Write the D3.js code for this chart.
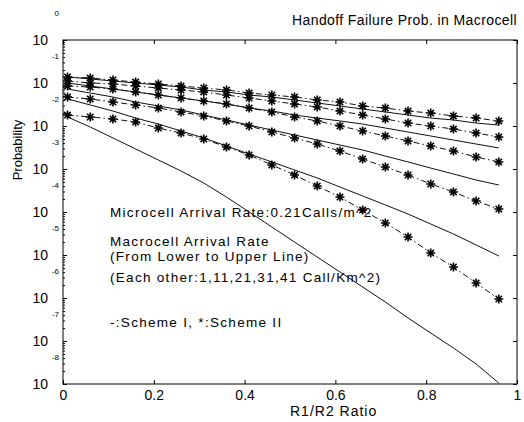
<!DOCTYPE html>
<html>
<head>
<meta charset="utf-8">
<script src="https://cdn.jsdelivr.net/npm/d3@7"></script>
<style>
  body { margin: 0; background: #fff; }
  svg { display: block; font-family: "Liberation Sans", Arial, sans-serif; }
</style>
</head>
<body>
<div id="chart"></div>
<script>
// R1/R2 ratio where both schemes were evaluated
const ratio = [0.01, 0.06, 0.11, 0.16, 0.21, 0.26, 0.31, 0.36, 0.41, 0.46,
               0.51, 0.56, 0.61, 0.66, 0.71, 0.76, 0.81, 0.86, 0.91, 0.96];

// Scheme I (solid), macrocell arrival 1, 11, 21, 31, 41 calls/km^2
const schemeI_1  = [0.0162, 0.00948, 0.00526, 0.00292, 0.00162, 8.97e-4, 4.72e-4, 2.23e-4, 1.0e-4, 4.48e-5,
                    2.0e-5, 8.97e-6, 4.03e-6, 1.80e-6, 8.07e-7, 3.43e-7, 1.53e-7, 6.87e-8, 2.92e-8, 1.05e-8];
const schemeI_11 = [0.0425, 0.0308, 0.0223, 0.0153, 0.0111, 0.00766, 0.00526, 0.00343, 0.00223, 0.00146,
                    9.48e-4, 6.18e-4, 3.81e-4, 2.36e-4, 1.46e-4, 8.97e-5, 5.26e-5, 3.08e-5, 1.71e-5, 9.48e-6];
const schemeI_21 = [0.0724, 0.0585, 0.0472, 0.0361, 0.0292, 0.0236, 0.0180, 0.0138, 0.0105, 0.00807,
                    0.00618, 0.00472, 0.00361, 0.00277, 0.00200, 0.00146, 0.00105, 7.66e-4, 5.55e-4, 4.25e-4];
const schemeI_31 = [0.1, 0.0851, 0.0724, 0.0618, 0.0526, 0.0448, 0.0381, 0.0325, 0.0262, 0.0223,
                    0.0180, 0.0153, 0.0131, 0.0111, 0.00897, 0.00724, 0.00585, 0.00472, 0.00381, 0.00308];
const schemeI_41 = [0.138, 0.1239, 0.1114, 0.1, 0.0897, 0.0807, 0.0687, 0.0618, 0.0526, 0.0472,
                    0.0403, 0.0343, 0.0292, 0.0248, 0.0212, 0.0180, 0.0153, 0.0138, 0.0117, 0.0105];

// Scheme II (dash-dot with *)
const schemeII_1  = [0.0180, 0.0162, 0.0146, 0.0124, 0.00897, 0.00687, 0.00499, 0.00325, 0.00212, 0.00124,
                     7.24e-4, 4.03e-4, 2.23e-4, 1.11e-4, 5.55e-5, 2.62e-5, 1.11e-5, 5.26e-6, 2.23e-6, 9.48e-7];
const schemeII_11 = [0.0472, 0.0425, 0.0361, 0.0308, 0.0262, 0.0212, 0.0171, 0.0131, 0.0100, 0.00724,
                     0.00526, 0.00381, 0.00262, 0.00171, 0.00111, 7.24e-4, 4.48e-4, 2.92e-4, 1.80e-4, 1.17e-4];
const schemeII_21 = [0.0851, 0.0807, 0.0724, 0.0618, 0.0526, 0.0448, 0.0381, 0.0325, 0.0262, 0.0212,
                     0.0162, 0.0131, 0.0100, 0.00766, 0.00585, 0.00448, 0.00343, 0.00262, 0.00190, 0.00146];
const schemeII_31 = [0.1114, 0.1, 0.0948, 0.0851, 0.0766, 0.0687, 0.0618, 0.0526, 0.0448, 0.0381,
                     0.0325, 0.0277, 0.0223, 0.0180, 0.0146, 0.0117, 0.0100, 0.00851, 0.00687, 0.00555];
const schemeII_41 = [0.138, 0.1306, 0.1175, 0.1054, 0.0948, 0.0851, 0.0766, 0.0687, 0.0585, 0.0526,
                     0.0472, 0.0403, 0.0361, 0.0292, 0.0262, 0.0223, 0.0200, 0.0171, 0.0153, 0.0131];

const xTicks = [0, 0.2, 0.4, 0.6, 0.8, 1];
const yExponents = [0, -1, -2, -3, -4, -5, -6, -7, -8];

const notes = [
    {text: 'Microcell Arrival Rate:0.21Calls/m^2', y: 217},
    {text: 'Macrocell Arrival Rate', y: 245.5},
    {text: '(From Lower to Upper Line)', y: 261},
    {text: '(Each other:1,11,21,31,41 Call/Km^2)', y: 282},
    {text: '-:Scheme I, *:Scheme II', y: 327}
];

const width = 524, height = 422;
const margin = {left: 63, right: 7, top: 40, bottom: 38};

const svg = d3.select('#chart').append('svg')
    .attr('width', width)
    .attr('height', height);

const x = d3.scaleLinear().domain([0, 1]).range([margin.left, width - margin.right]);
const y = d3.scaleLog().domain([1e-8, 1]).range([height - margin.bottom, margin.top]);

const plotLeft = x(0), plotRight = x(1), plotTop = y(1), plotBottom = y(1e-8);

// axes with inward ticks
svg.append('g')
    .attr('transform', `translate(0,${plotBottom})`)
    .call(d3.axisBottom(x).tickValues(xTicks).tickSize(-4).tickPadding(6)
        .tickFormat(d => d === 0 || d === 1 ? d3.format('d')(d) : d3.format('.1f')(d)))
    .call(g => g.select('.domain').remove())
    .call(g => g.selectAll('text').attr('font-size', 14).attr('fill', '#000'));

svg.append('g')
    .attr('transform', `translate(0,${plotTop})`)
    .call(d3.axisTop(x).tickValues(xTicks).tickSize(-4).tickFormat(''))
    .call(g => g.select('.domain').remove());

const minorTicks = [];
yExponents.slice(0, -1).forEach(e => {
    for (let m = 2; m <= 9; m++) minorTicks.push(m * Math.pow(10, e - 1));
});

svg.append('g')
    .attr('transform', `translate(${plotLeft},0)`)
    .call(d3.axisLeft(y).tickValues(yExponents.map(e => Math.pow(10, e))).tickSize(-4).tickFormat(''))
    .call(g => g.select('.domain').remove());

svg.append('g')
    .attr('transform', `translate(${plotLeft},0)`)
    .call(d3.axisLeft(y).tickValues(minorTicks).tickSize(-2).tickFormat(''))
    .call(g => g.select('.domain').remove());

svg.append('g')
    .attr('transform', `translate(${plotRight},0)`)
    .call(d3.axisRight(y).tickValues(yExponents.map(e => Math.pow(10, e))).tickSize(-4).tickFormat(''))
    .call(g => g.select('.domain').remove());

// frame
svg.append('rect')
    .attr('x', plotLeft).attr('y', plotTop)
    .attr('width', plotRight - plotLeft).attr('height', plotBottom - plotTop)
    .attr('fill', 'none').attr('stroke', '#000').attr('stroke-width', 1);

// y tick labels: 10 with a raised exponent
const yLab = svg.append('g').attr('font-size', 14).attr('fill', '#000');
yExponents.forEach(e => {
    const ty = y(Math.pow(10, e));
    yLab.append('text')
        .attr('x', 48).attr('y', ty + 5)
        .attr('text-anchor', 'end')
        .text('10');
    yLab.append('text')
        .attr('x', 59).attr('y', ty - 24)
        .attr('text-anchor', 'end')
        .attr('font-size', 8)
        .text(String(e));
});

// lines
const line = d3.line()
    .x((d, i) => x(ratio[i]))
    .y(d => y(d));

const solid = [schemeI_1, schemeI_11, schemeI_21, schemeI_31, schemeI_41];
const dashed = [schemeII_1, schemeII_11, schemeII_21, schemeII_31, schemeII_41];

svg.append('g')
    .selectAll('path')
    .data(solid)
    .enter().append('path')
    .attr('d', line)
    .attr('fill', 'none')
    .attr('stroke', '#111')
    .attr('stroke-width', 1);

svg.append('g')
    .selectAll('path')
    .data(dashed)
    .enter().append('path')
    .attr('d', line)
    .attr('fill', 'none')
    .attr('stroke', '#111')
    .attr('stroke-width', 1)
    .attr('stroke-dasharray', '6,3,1.5,3');

const star = 'M-4.5,0H4.5M0,-4.5V4.5M-3.2,-3.2L3.2,3.2M-3.2,3.2L3.2,-3.2';
dashed.forEach(series => {
    svg.append('g')
        .selectAll('path')
        .data(series)
        .enter().append('path')
        .attr('transform', (d, i) => `translate(${x(ratio[i])},${y(d)})`)
        .attr('d', star)
        .attr('fill', 'none')
        .attr('stroke', '#000')
        .attr('stroke-width', 1.6);
});

// labels
svg.append('text')
    .attr('x', 292).attr('y', 25)
    .attr('font-size', 14)
    .attr('letter-spacing', 0.4)
    .text('Handoff Failure Prob. in Macrocell');

svg.append('text')
    .attr('x', 290).attr('y', 416)
    .attr('font-size', 14)
    .attr('letter-spacing', 1)
    .text('R1/R2 Ratio');

svg.append('text')
    .attr('transform', 'translate(22,150) rotate(-90)')
    .attr('text-anchor', 'middle')
    .attr('font-size', 13)
    .text('Probability');

svg.append('g')
    .attr('font-size', 13.5)
    .attr('letter-spacing', 1.3)
    .selectAll('text')
    .data(notes)
    .enter().append('text')
    .attr('x', 110)
    .attr('y', d => d.y)
    .text(d => d.text);
</script>
</body>
</html>
